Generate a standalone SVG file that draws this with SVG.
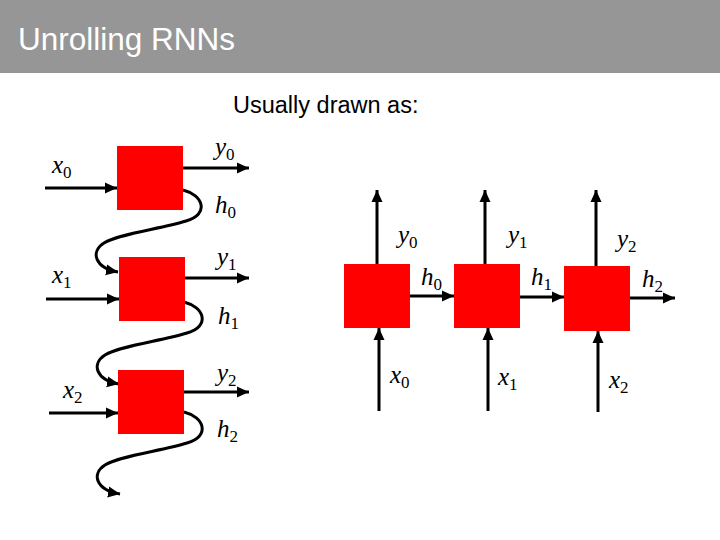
<svg xmlns="http://www.w3.org/2000/svg" width="720" height="540" viewBox="0 0 720 540">
<style>
.box{fill:#ff0000}
.ln{fill:none;stroke:#000;stroke-width:3;marker-end:url(#ah)}
.lb{font-family:"Liberation Serif","DejaVu Serif",serif;font-style:italic;font-size:25px;fill:#000}
.sb{font-style:normal;font-size:17px}
.title{font-family:"Liberation Sans",Arial,sans-serif;font-size:31.5px;fill:#fff}
.sub{font-family:"Liberation Sans",Arial,sans-serif;font-size:23.5px;fill:#000}
</style>
<defs>
<marker id="ah" markerUnits="userSpaceOnUse" markerWidth="13" markerHeight="12" refX="12" refY="6" orient="auto">
<path d="M0,0.5 L12,6 L0,11.5 z" fill="#000"/>
</marker>
</defs>
<rect x="0" y="0" width="720" height="73" fill="#969696"/>
<text class="title" x="18" y="50">Unrolling RNNs</text>
<text class="sub" x="233" y="113">Usually drawn as:</text>

<g id="connectors">
<path class="ln" d="M45,188 L117,188"/>
<path class="ln" d="M183,168 L249,168"/>
<path class="ln" d="M46,299 L119,299"/>
<path class="ln" d="M184,278 L249,278"/>
<path class="ln" d="M49,413 L118,413"/>
<path class="ln" d="M184,392 L249,392"/>
<path class="ln" d="M183,190 C203,195 210,214 186,221 C160,229 118,234 104,243 C90,252 95,268 118,272"/>
<path class="ln" d="M184,302 C204,307 211,326 187,333 C161,341 119,346 105,355 C91,364 96,380 119,384"/>
<path class="ln" d="M184,412 C204,417 211,436 187,443 C161,451 119,456 105,465 C91,474 96,490 120,494"/>
<path class="ln" d="M377,264 L377,190"/>
<path class="ln" d="M485,264 L485,190"/>
<path class="ln" d="M596,266 L596,190"/>
<path class="ln" d="M379,411 L379,328"/>
<path class="ln" d="M488,411 L488,328"/>
<path class="ln" d="M598,412 L598,331"/>
<path class="ln" d="M410,296 L454,296"/>
<path class="ln" d="M520,297 L564,297"/>
<path class="ln" d="M630,298 L675,298"/>
</g>

<g id="cell0"><rect class="box" x="117" y="146" width="66" height="64"/></g>
<g id="cell1"><rect class="box" x="119" y="257" width="66" height="64"/></g>
<g id="cell2"><rect class="box" x="118" y="370" width="66" height="64"/></g>
<g id="rcell0"><rect class="box" x="344" y="264" width="66" height="64"/></g>
<g id="rcell1"><rect class="box" x="454" y="264" width="66" height="64"/></g>
<g id="rcell2"><rect class="box" x="564" y="266" width="66" height="65"/></g>

<g id="labels">
<text class="lb" x="52" y="173">x<tspan class="sb" dy="5">0</tspan></text>
<text class="lb" x="215" y="155">y<tspan class="sb" dy="5">0</tspan></text>
<text class="lb" x="215" y="213">h<tspan class="sb" dy="5">0</tspan></text>
<text class="lb" x="52" y="283">x<tspan class="sb" dy="5">1</tspan></text>
<text class="lb" x="217" y="265">y<tspan class="sb" dy="5">1</tspan></text>
<text class="lb" x="218" y="324">h<tspan class="sb" dy="5">1</tspan></text>
<text class="lb" x="63" y="398">x<tspan class="sb" dy="5">2</tspan></text>
<text class="lb" x="217" y="381">y<tspan class="sb" dy="5">2</tspan></text>
<text class="lb" x="217" y="437">h<tspan class="sb" dy="5">2</tspan></text>
<text class="lb" x="398" y="243">y<tspan class="sb" dy="5">0</tspan></text>
<text class="lb" x="508" y="243">y<tspan class="sb" dy="5">1</tspan></text>
<text class="lb" x="617" y="247">y<tspan class="sb" dy="5">2</tspan></text>
<text class="lb" x="421" y="285">h<tspan class="sb" dy="5">0</tspan></text>
<text class="lb" x="531" y="285">h<tspan class="sb" dy="5">1</tspan></text>
<text class="lb" x="642" y="287">h<tspan class="sb" dy="5">2</tspan></text>
<text class="lb" x="390" y="383">x<tspan class="sb" dy="5">0</tspan></text>
<text class="lb" x="498" y="385">x<tspan class="sb" dy="5">1</tspan></text>
<text class="lb" x="609" y="388">x<tspan class="sb" dy="5">2</tspan></text>
</g>
</svg>
